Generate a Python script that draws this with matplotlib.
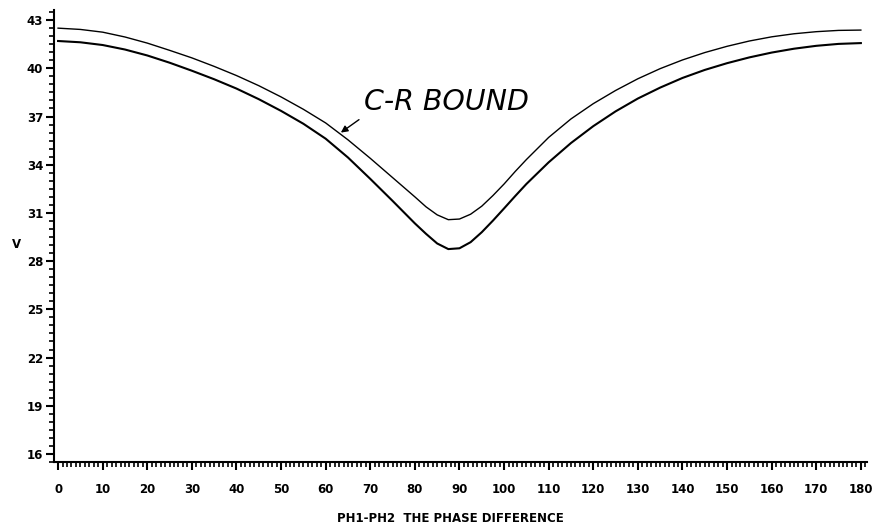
import numpy as np
import matplotlib
matplotlib.use("Agg")
import matplotlib.pyplot as plt
from matplotlib.ticker import MultipleLocator

# phase difference (deg)
phase = [0, 5, 10, 15, 20, 25, 30, 35, 40, 45, 50, 55, 60, 65, 70, 75,
         77.5, 80, 82.5, 85, 87.5, 90, 92.5, 95, 97.5, 100, 102.5, 105,
         110, 115, 120, 125, 130, 135, 140, 145, 150, 155, 160, 165, 170,
         175, 180]

# C-R bound (upper curve)
cr_bound = [42.50, 42.42, 42.25, 41.95, 41.57, 41.12, 40.65, 40.12, 39.55,
            38.92, 38.22, 37.45, 36.60, 35.55, 34.40, 33.20,
            32.60, 32.00, 31.38, 30.88, 30.58, 30.62, 30.92, 31.42,
            32.08, 32.80, 33.58, 34.32,
            35.70, 36.85, 37.80, 38.62, 39.35, 39.98, 40.52, 40.98, 41.37,
            41.70, 41.96, 42.15, 42.28, 42.36, 42.38]

# estimator curve (lower)
v_est = [41.70, 41.62, 41.45, 41.17, 40.80, 40.35, 39.85, 39.32, 38.74,
         38.08, 37.35, 36.55, 35.62, 34.45, 33.12, 31.75,
         31.05, 30.35, 29.70, 29.10, 28.75, 28.80, 29.18, 29.80,
         30.52, 31.28, 32.05, 32.80,
         34.15, 35.35, 36.40, 37.32, 38.12, 38.80, 39.40, 39.90, 40.32,
         40.68, 40.98, 41.22, 41.40, 41.52, 41.57]

xticks = list(range(0, 181, 10))
yticks = [16, 19, 22, 25, 28, 31, 34, 37, 40, 43]

fig = plt.figure(figsize=(8.74, 5.26), dpi=100)
ax = fig.add_axes([0.0621, 0.1217, 0.9295, 0.859])

ax.plot(phase, cr_bound, color='black', lw=1.0)
ax.plot(phase, v_est, color='black', lw=1.5)

ax.set_xlim(-0.85, 181.3)
ax.set_ylim(15.5, 43.62)

ax.spines['top'].set_visible(False)
ax.spines['right'].set_visible(False)
ax.spines['left'].set_linewidth(1.5)
ax.spines['bottom'].set_linewidth(1.5)

ax.set_xticks(xticks)
ax.set_yticks(yticks)
ax.xaxis.set_minor_locator(MultipleLocator(1))
ax.yaxis.set_minor_locator(MultipleLocator(0.5))
ax.tick_params(axis='both', which='major', direction='out', length=6,
               width=1.5, labelsize=8.5)
ax.tick_params(axis='both', which='minor', direction='out', length=3.5,
               width=1.2)
ax.tick_params(axis='x', which='major', pad=9)
ax.tick_params(axis='y', which='major', pad=2)
for lab in ax.get_xticklabels() + ax.get_yticklabels():
    lab.set_fontweight('bold')

fig.text(12 / 874, 1 - 245 / 526, 'V', fontsize=8.5, fontweight='bold',
         ha='left', va='center')
fig.text(450 / 874, 1 - 518 / 526, 'PH1-PH2  THE PHASE DIFFERENCE',
         fontsize=8.5, fontweight='bold', ha='center', va='center')

ax.annotate('C-R BOUND', xy=(63.4, 36.0), xytext=(68.6, 37.9),
            fontsize=20.5, family='DejaVu Sans', style='oblique',
            ha='left', va='center', color='black',
            arrowprops=dict(arrowstyle='-|>', color='black', lw=1.0,
                            shrinkA=2, shrinkB=0, relpos=(0, 0),
                            mutation_scale=10),
            )

fig.savefig('out.png', dpi=100)
